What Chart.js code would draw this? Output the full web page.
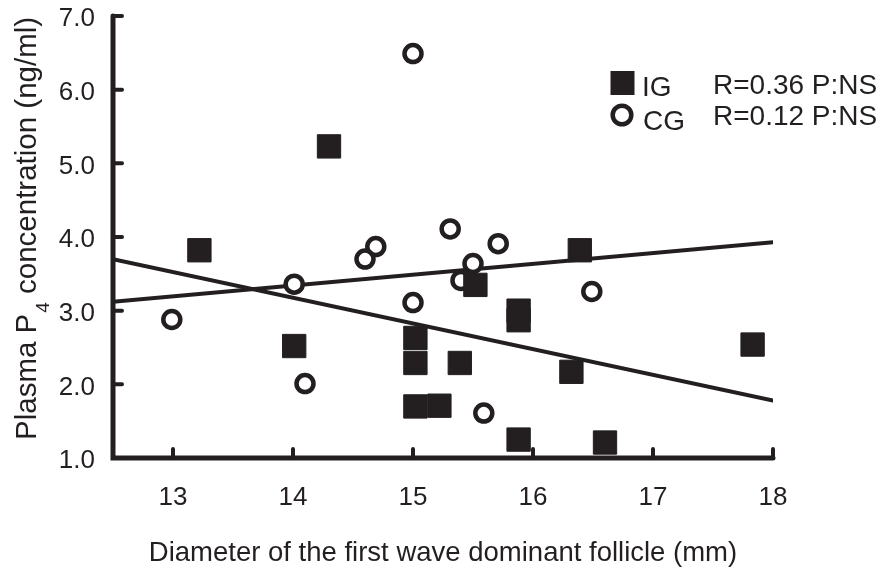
<!DOCTYPE html>
<html>
<head>
<meta charset="utf-8">
<script src="https://cdn.jsdelivr.net/npm/chart.js@4.4.1/dist/chart.umd.min.js"></script>
<style>
  html, body { margin: 0; padding: 0; background: #ffffff; }
  #c { display: block; }
</style>
</head>
<body>
<canvas id="c" width="887" height="569"></canvas>
<script>
// ---- data ----
const igX = [13.22, 14.30, 14.01, 15.02, 15.02, 15.02, 15.22, 15.39, 15.52, 15.88, 15.88, 15.88, 16.32, 16.39, 16.60, 17.83];
const igY = [3.82, 5.23, 2.52, 2.63, 2.29, 1.70, 1.71, 2.29, 3.35, 3.00, 2.87, 1.25, 2.17, 3.82, 1.21, 2.54];

const cgX = [15.00, 15.31, 14.69, 14.60, 15.71, 15.50, 15.40, 14.01, 12.99, 15.00, 14.10, 15.59, 16.49];
const cgY = [6.49, 4.11, 3.87, 3.70, 3.91, 3.64, 3.41, 3.36, 2.88, 3.11, 2.01, 1.61, 3.26];

const igLineX = [12.5, 18];
const igLineY = [3.70, 1.78];
const cgLineX = [12.5, 18];
const cgLineY = [3.12, 3.93];

const xTicks = [13, 14, 15, 16, 17, 18];
const yTicks = [1, 2, 3, 4, 5, 6, 7];
const yTickLabels = ['1.0', '2.0', '3.0', '4.0', '5.0', '6.0', '7.0'];

const seriesNames = ['IG', 'CG'];
const statLabels = ['R=0.36 P:NS', 'R=0.12 P:NS'];
const xTitle = 'Diameter of the first wave dominant follicle (mm)';
const yTitleParts = ['Plasma P', '4', ' concentration (ng/ml)'];

// ---- styling ----
const INK = '#231f20';
const FONT = "'Liberation Sans', Arial, sans-serif";

const toPts = (xs, ys) => xs.map((x, i) => ({ x: x, y: ys[i] }));

const decor = {
  id: 'decor',
  afterDatasetsDraw(chart) {
    const ctx = chart.ctx;
    const xs = chart.scales.x, ys = chart.scales.y;
    const x0 = xs.left, x1 = xs.getPixelForValue(xTicks[xTicks.length - 1]);
    const yb = ys.getPixelForValue(yTicks[0]);
    const yt = ys.getPixelForValue(yTicks[yTicks.length - 1]);
    ctx.save();
    ctx.strokeStyle = INK;
    ctx.lineCap = 'round';
    ctx.lineJoin = 'miter';
    ctx.lineWidth = 5;
    ctx.beginPath();
    ctx.moveTo(x0, yt);
    ctx.lineTo(x0, yb);
    ctx.lineTo(x1, yb);
    ctx.stroke();
    ctx.lineWidth = 4;
    ctx.beginPath();
    yTicks.forEach(v => {
      const p = ys.getPixelForValue(v);
      ctx.moveTo(x0, p);
      ctx.lineTo(x0 + 9, p);
    });
    xTicks.forEach(v => {
      const p = xs.getPixelForValue(v);
      ctx.moveTo(p, yb);
      ctx.lineTo(p, yb - 9);
    });
    ctx.stroke();
    ctx.restore();
  },
  afterDraw(chart) {
    const ctx = chart.ctx;
    const area = chart.chartArea;
    ctx.save();
    ctx.fillStyle = INK;
    ctx.textBaseline = 'alphabetic';

    // x title
    ctx.font = '27.5px ' + FONT;
    ctx.textAlign = 'center';
    ctx.fillText(xTitle, (area.left + area.right) / 2, 561);

    // y title (rotated, with subscript)
    ctx.save();
    ctx.translate(36, 440);
    ctx.rotate(-Math.PI / 2);
    ctx.textAlign = 'left';
    let pos = 0;
    ctx.font = '29.5px ' + FONT;
    ctx.fillText(yTitleParts[0], pos, 0);
    pos += ctx.measureText(yTitleParts[0]).width;
    ctx.font = '19px ' + FONT;
    ctx.fillText(yTitleParts[1], pos + 1, 13);
    pos += ctx.measureText(yTitleParts[1]).width + 1;
    ctx.font = '29.5px ' + FONT;
    ctx.fillText(yTitleParts[2], pos, 0);
    ctx.restore();

    // legend
    ctx.textAlign = 'left';
    ctx.fillRect(610.5, 71, 24, 24);
    ctx.lineWidth = 4.5;
    ctx.strokeStyle = INK;
    ctx.beginPath();
    ctx.arc(622, 115, 9.3, 0, Math.PI * 2);
    ctx.stroke();
    ctx.font = '28px ' + FONT;
    ctx.fillText(seriesNames[0], 642, 96);
    ctx.fillText(seriesNames[1], 643, 130);
    ctx.fillText(statLabels[0], 713, 94);
    ctx.fillText(statLabels[1], 713, 125);
    ctx.restore();
  }
};

new Chart(document.getElementById('c'), {
  type: 'scatter',
  data: {
    datasets: [
      {
        label: seriesNames[0],
        data: toPts(igX, igY),
        pointStyle: 'rect',
        pointRadius: 16.5,
        pointBorderWidth: 1,
        backgroundColor: INK,
        borderColor: INK,
        order: 1
      },
      {
        label: seriesNames[1],
        data: toPts(cgX, cgY),
        pointStyle: 'circle',
        pointRadius: 8.5,
        pointBorderWidth: 4.5,
        backgroundColor: '#ffffff',
        borderColor: INK,
        order: 2
      },
      {
        type: 'line',
        label: 'IG fit',
        data: toPts(igLineX, igLineY),
        borderColor: INK,
        borderWidth: 4,
        borderCapStyle: 'round',
        pointRadius: 0,
        fill: false,
        order: 3
      },
      {
        type: 'line',
        label: 'CG fit',
        data: toPts(cgLineX, cgLineY),
        borderColor: INK,
        borderWidth: 4,
        borderCapStyle: 'round',
        pointRadius: 0,
        fill: false,
        order: 3
      }
    ]
  },
  options: {
    responsive: false,
    animation: false,
    devicePixelRatio: 1,
    layout: { autoPadding: false, padding: { left: 0, right: 114, top: 16, bottom: 0 } },
    plugins: { legend: { display: false }, tooltip: { enabled: false } },
    scales: {
      x: {
        type: 'linear',
        min: 12.5,
        max: 18,
        afterBuildTicks: s => { s.ticks = xTicks.map(v => ({ value: v })); },
        afterFit: s => { s.height = 111; s.paddingLeft = 0; s.paddingRight = 0; },
        grid: { display: false, drawTicks: false },
        border: { display: false },
        ticks: {
          padding: 24,
          maxRotation: 0,
          autoSkip: false,
          color: INK,
          font: { family: FONT, size: 26 },
          callback: v => String(v)
        }
      },
      y: {
        type: 'linear',
        min: 1,
        max: 7,
        afterBuildTicks: s => { s.ticks = yTicks.map(v => ({ value: v })); },
        afterFit: s => { s.width = 113; s.paddingTop = 0; s.paddingBottom = 0; },
        grid: { display: false, drawTicks: false },
        border: { display: false },
        ticks: {
          padding: 18,
          labelOffset: 3,
          autoSkip: false,
          color: INK,
          font: { family: FONT, size: 26 },
          callback: v => yTickLabels[yTicks.indexOf(v)]
        }
      }
    }
  },
  plugins: [decor]
});
</script>
</body>
</html>
